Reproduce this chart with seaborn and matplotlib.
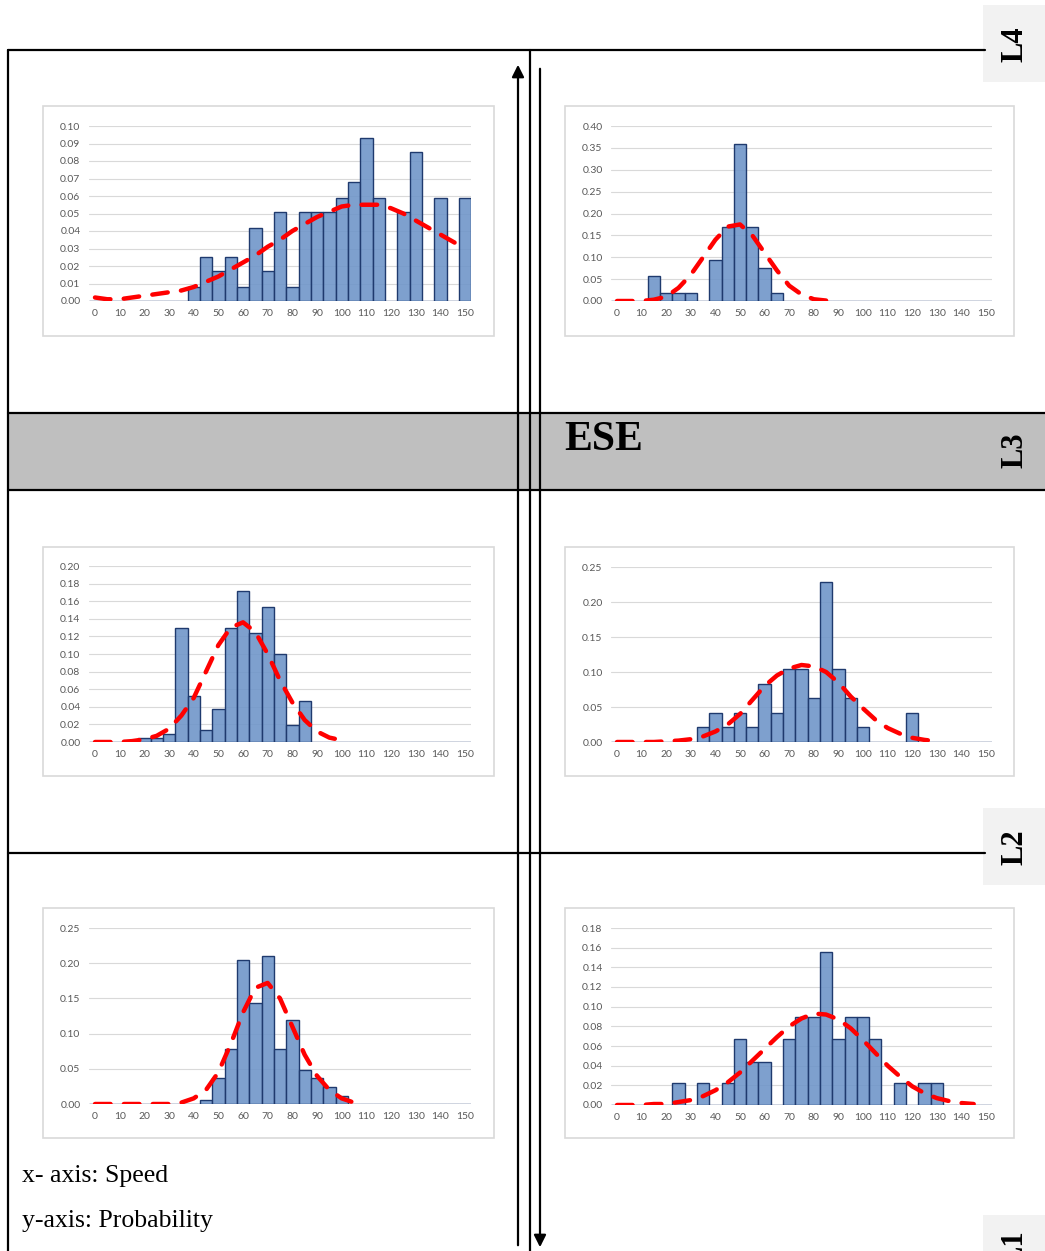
import numpy as np
import matplotlib
matplotlib.use('Agg')
import matplotlib.pyplot as plt
import seaborn as sns
from matplotlib.patches import Rectangle, FancyArrowPatch

sns.set_theme(style='white')
plt.rcParams['font.family'] = ['Lato', 'DejaVu Sans']
plt.rcParams['text.color'] = 'black'

W, H = 1045, 1251

# bar data: speed bin centre -> probability
tl_speed = [40, 45, 50, 55, 60, 65, 70, 75, 80, 85, 90, 95, 100, 105, 110, 115, 125, 130, 140, 150]
tl_prob = [.008, .025, .017, .025, .008, .042, .017, .051, .008, .051, .051, .051, .059, .068, .093, .059, .051, .085, .059, .059]
tr_speed = [15, 20, 25, 30, 40, 45, 50, 55, 60, 65]
tr_prob = [.057, .019, .019, .019, .094, .17, .358, .17, .075, .019]
ml_speed = [20, 25, 30, 35, 40, 45, 50, 55, 60, 65, 70, 75, 80, 85]
ml_prob = [.004, .004, .009, .129, .052, .014, .038, .129, .172, .124, .153, .1, .019, .047]
mr_speed = [35, 40, 45, 50, 55, 60, 65, 70, 75, 80, 85, 90, 95, 100, 120]
mr_prob = [.021, .042, .021, .042, .021, .083, .042, .104, .104, .063, .229, .104, .063, .021, .042]
bl_speed = [45, 50, 55, 60, 65, 70, 75, 80, 85, 90, 95, 100]
bl_prob = [.006, .037, .078, .204, .143, .21, .078, .12, .049, .037, .024, .012]
br_speed = [25, 35, 45, 50, 55, 60, 70, 75, 80, 85, 90, 95, 100, 105, 115, 125, 130]
br_prob = [.022, .022, .022, .067, .044, .044, .067, .089, .089, .156, .067, .089, .089, .067, .022, .022, .022]

# fitted normal curves, read at 0, 5, 10, ...
tl_curve = [.002, .001, .001, .002, .003, .004, .005, .006, .008, .011, .014, .018, .022, .026, .031, .035,
            .040, .044, .048, .051, .054, .055, .055, .055, .053, .050, .046, .042, .038, .034, .030]
tr_curve = [0, 0, 0, .003, .01, .03, .06, .1, .14, .17, .175, .15, .11, .07, .035, .015, .004, .001]
ml_curve = [0, 0, 0, .001, .003, .007, .015, .03, .05, .08, .11, .13, .136, .125, .1, .07, .045, .025,
            .012, .005, .002]
mr_curve = [0, 0, 0, 0, .001, .002, .004, .008, .015, .025, .04, .06, .08, .095, .105, .11, .108, .1,
            .085, .065, .048, .032, .02, .012, .006, .003, .001]
bl_curve = [0, 0, 0, 0, 0, 0, 0, .002, .008, .02, .045, .085, .13, .165, .172, .15, .11, .07, .04, .02,
            .008, .002]
br_curve = [0, 0, 0, .001, .001, .003, .005, .009, .015, .023, .033, .045, .057, .069, .08, .088, .093,
            .092, .087, .078, .066, .053, .04, .029, .019, .012, .007, .004, .002, .001]

x_ticks = list(range(0, 151, 10))
bin_edges = [-2.5 + 5 * i for i in range(32)]

fig = plt.figure(figsize=(W / 100, H / 100), dpi=100)


def fx(px):
    return px / W


def fy(py):
    return 1 - py / H


def line(x0, y0, x1, y1, lw=1.6):
    fig.add_artist(plt.Line2D([fx(x0), fx(x1)], [fy(y0), fy(y1)], color='black', lw=lw))


def rect(x0, y0, x1, y1, fc, ec='none', lw=0):
    fig.add_artist(Rectangle((fx(x0), fy(y1)), fx(x1 - x0), (y1 - y0) / H, facecolor=fc,
                             edgecolor=ec, lw=lw, zorder=0))


# table structure
rect(8, 413, 1045, 490, '#bfbfbf')
line(8, 50, 985, 50)
line(8, 50, 8, 1251)
line(8, 413, 1045, 413)
line(8, 490, 1045, 490)
line(8, 853, 985, 853)
line(530, 50, 530, 1251)
fig.text(fx(564), fy(440), 'ESE', fontsize=30, fontweight='bold', family='Liberation Serif',
         va='center', ha='left')
for lab, y0, y1 in [('L4', 5, 82), ('L2', 808, 885), ('L1', 1215, 1260)]:
    rect(983, y0, 1045, y1, '#f2f2f2')
for lab, yc in [('L4', 44), ('L3', 450), ('L2', 847), ('L1', 1248)]:
    fig.text(fx(1015), fy(yc), lab, fontsize=22, fontweight='bold', family='Liberation Serif',
             rotation=90, va='center', ha='center')
fig.add_artist(FancyArrowPatch((fx(518), fy(1248)), (fx(518), fy(62)), arrowstyle='-|>',
                               mutation_scale=18, color='black', lw=1.6, transform=fig.transFigure))
fig.add_artist(FancyArrowPatch((fx(540), fy(66)), (fx(540), fy(1250)), arrowstyle='-|>',
                               mutation_scale=18, color='black', lw=1.6, transform=fig.transFigure))
fig.text(fx(22), fy(1176), 'x- axis: Speed', fontsize=18.5, family='Liberation Serif', va='center')
fig.text(fx(22), fy(1221), 'y-axis: Probability', fontsize=18.5, family='Liberation Serif', va='center')

panels = [
    # speeds, probs, curve, frame box, x0px(0), x150px, ytop px, y0 px, ymax, ystep
    (tl_speed, tl_prob, tl_curve, (43, 106, 494, 336), 95, 465, 126, 301, 0.10, 0.01),
    (tr_speed, tr_prob, tr_curve, (565, 106, 1014, 336), 617, 986, 126, 301, 0.40, 0.05),
    (ml_speed, ml_prob, ml_curve, (43, 547, 494, 776), 95, 465, 566, 742, 0.20, 0.02),
    (mr_speed, mr_prob, mr_curve, (565, 547, 1014, 776), 617, 986, 567, 742, 0.25, 0.05),
    (bl_speed, bl_prob, bl_curve, (43, 908, 494, 1138), 95, 465, 928, 1104, 0.25, 0.05),
    (br_speed, br_prob, br_curve, (565, 908, 1014, 1138), 617, 986, 928, 1105, 0.18, 0.02),
]

for speeds, probs, curve, box, x0p, x150p, ytp, y0p, ymax, ystep in panels:
    rect(box[0], box[1], box[2], box[3], 'white', ec='#d9d9d9', lw=1.2)
    step = (x150p - x0p) / 150.0
    left = x0p - 2.5 * step
    right = x150p + 2.5 * step
    ax = fig.add_axes([fx(left), fy(y0p), fx(right - left), (y0p - ytp) / H])
    ax.set_facecolor('none')
    sns.histplot(x=speeds, weights=probs, bins=bin_edges, ax=ax,
                 color='#7096c9', edgecolor='#1f3a6e', linewidth=1.0, alpha=0.9)
    sns.lineplot(x=[5 * i for i in range(len(curve))], y=curve, ax=ax, color='#ff0000',
                 lw=3.2, linestyle=(0, (3.5, 3)), dash_capstyle='round')
    ax.set_xlim(-2.5, 152.5)
    ax.set_ylim(0, ymax)
    yt = np.round(np.arange(0, ymax + ystep / 2, ystep), 2)
    ax.set_yticks(yt)
    ax.set_yticklabels([f'{v:.2f}' for v in yt])
    ax.set_xticks(x_ticks)
    ax.grid(axis='y', color='#d9d9d9', lw=0.8)
    ax.set_axisbelow(True)
    for s in ax.spines.values():
        s.set_visible(False)
    ax.tick_params(axis='both', length=0, labelsize=7.5, labelcolor='#595959', pad=6)
    ax.set_xlabel('')
    ax.set_ylabel('')

fig.savefig('out.png', dpi=100)
